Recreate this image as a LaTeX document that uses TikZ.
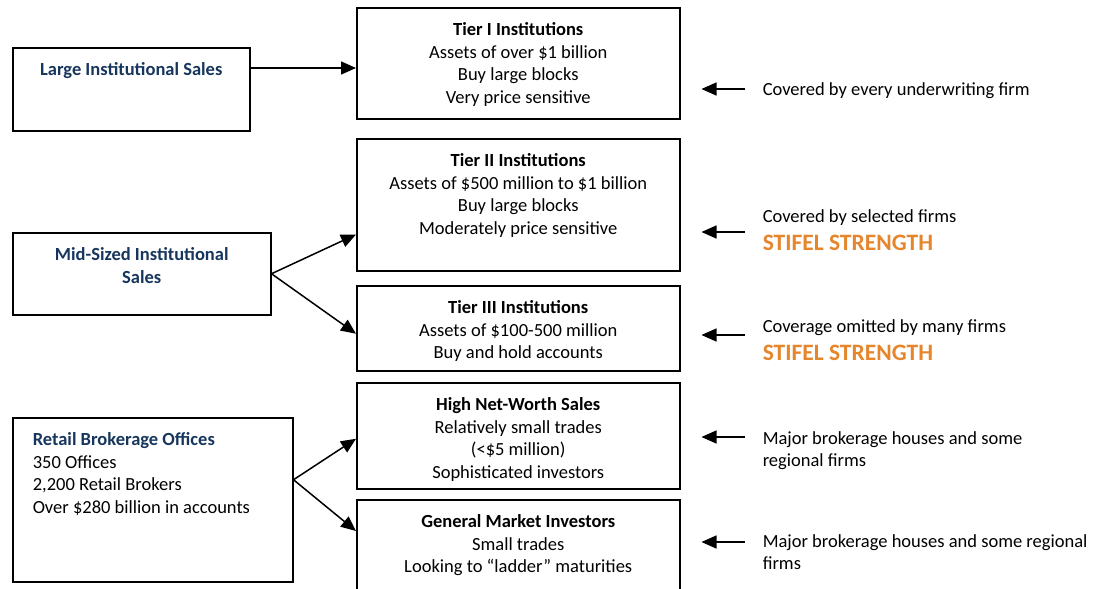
\documentclass[tikz,border=0pt]{standalone}
\usepackage{fontspec}
\setmainfont{Carlito}
\usetikzlibrary{arrows.meta}
\definecolor{navy}{RGB}{23,54,93}
\definecolor{stifel}{RGB}{230,134,44}
% framed cell: width, height, lines
\newcommand{\cellc}[3]{\parbox[b][#2pt][t]{#1pt}{\centering\vspace*{12pt}\strut#3}}
\newcommand{\celll}[3]{\parbox[b][#2pt][t]{#1pt}{\raggedright\leftskip=20pt\vspace*{12pt}\strut#3}}
\newcommand{\notetext}[1]{\parbox[t]{340pt}{\raggedright#1}}
\newcommand{\strength}{\\[6pt]{\fontsize{23.5}{26}\selectfont\bfseries\color{stifel}STIFEL STRENGTH}}

\begin{document}
\begin{tikzpicture}[x=1pt,y=-1pt,>={Triangle[length=15pt,width=13pt]},line width=1.5pt,
    main box/.style={draw,inner sep=0pt,anchor=north west,font=\fontsize{18.5}{22.5}\selectfont},
    note/.style={inner sep=0pt,anchor=base west,font=\fontsize{18.5}{22.5}\selectfont}]
    \useasboundingbox (0,0) rectangle (1096,589);

    % left column
    \node[main box] (large) at (12,47) {\cellc{237}{83}{{\bfseries\color{navy}Large Institutional Sales}}};
    \node[main box] (mid) at (12,232) {\cellc{258}{82}{{\bfseries\color{navy}Mid-Sized Institutional\\Sales}}};
    \node[main box] (retail) at (12,417) {\celll{280}{164}{{\bfseries\color{navy}Retail Brokerage Offices}\\350 Offices\\2,200 Retail Brokers\\Over \$280 billion in accounts}};

    % middle column
    \node[main box] (tier1) at (356,7) {\cellc{323}{111}{\textbf{Tier I Institutions}\\Assets of over \$1 billion\\Buy large blocks\\Very price sensitive}};
    \node[main box] (tier2) at (356,138) {\cellc{323}{132}{\textbf{Tier II Institutions}\\Assets of \$500 million to \$1 billion\\Buy large blocks\\Moderately price sensitive}};
    \node[main box] (tier3) at (356,285) {\cellc{323}{85}{\textbf{Tier III Institutions}\\Assets of \$100-500 million\\Buy and hold accounts}};
    \node[main box] (hnw) at (356,382) {\cellc{323}{106}{\textbf{High Net-Worth Sales}\\Relatively small trades\\(<\$5 million)\\Sophisticated investors}};
    \node[main box] (gmi) at (356,499) {\cellc{323}{110}{\textbf{General Market Investors}\\Small trades\\Looking to ``ladder'' maturities}};

    % right column
    \node[note] (n1) at (762,95) {\notetext{Covered by every underwriting firm}};
    \node[note] (n2) at (762,222) {\notetext{Covered by selected firms\strength}};
    \node[note] (n3) at (762,332) {\notetext{Coverage omitted by many firms\strength}};
    \node[note] (n4) at (762,444) {\notetext{Major brokerage houses and some\\regional firms}};
    \node[note] (n5) at (762,547) {\notetext{Major brokerage houses and some regional\\firms}};

    \coordinate (c1) at (745,89);
    \coordinate (c2) at (745,232);
    \coordinate (c3) at (745,335);
    \coordinate (c4) at (745,437);
    \coordinate (c5) at (745,542);

    \path (large.north east) ++(0,21) coordinate (l1);
    \draw[->] (l1) -- (l1 -| tier1.west);

    \draw[->] (mid.east) -- ([yshift=37pt]tier2.south west);
    \draw[->] (mid.east) -- ([yshift=-5.5pt]tier3.west);
    \draw[->] ([yshift=20pt]retail.east) -- ([yshift=-3pt]hnw.west);
    \draw[->] ([yshift=20pt]retail.east) -- ([yshift=-32pt]gmi.north west);

    \draw[->,shorten >=21pt] (c1) -- (c1 -| tier1.east);
    \draw[->,shorten >=21pt] (c2) -- (c2 -| tier2.east);
    \draw[->,shorten >=21pt] (c3) -- (c3 -| tier3.east);
    \draw[->,shorten >=21pt] (c4) -- (c4 -| hnw.east);
    \draw[->,shorten >=21pt] (c5) -- (c5 -| gmi.east);
\end{tikzpicture}
\end{document}
